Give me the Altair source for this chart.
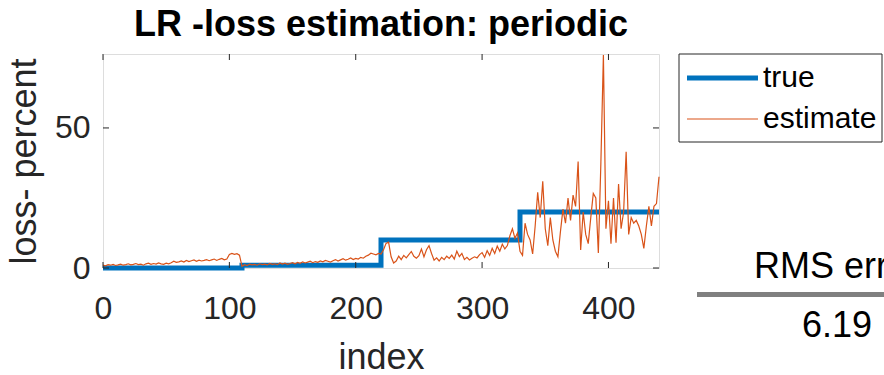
import altair as alt
import pandas as pd

# ---- data -------------------------------------------------------------
# true loss level (step function, value holds until the next break)
true_index = [0, 110, 220, 330, 440]
true_loss = [0, 1, 10, 20, 20]

# estimated loss, every second index from 0 to 440
est_index = list(range(0, 441, 2))
est_loss = [
    # 0 - 108
    1.0, 0.8, 1.2, 1.0, 1.3, 0.9, 1.1, 1.4, 1.0, 1.2, 1.5,
    1.1, 1.3, 1.6, 1.2, 1.4, 1.0, 1.5, 1.7, 1.3, 1.6,
    1.4, 1.8, 1.5, 1.3, 1.7, 1.5, 1.9, 2.4, 2.0, 2.2,
    2.5, 2.1, 2.7, 2.3, 2.6, 2.9, 2.4, 2.8, 2.5, 2.7,
    3.0, 2.6, 2.9, 3.2, 2.7, 3.1, 3.4, 2.9, 3.2,
    4.8, 5.2, 4.9, 5.1, 4.6,
    # 110 - 218
    0.6, 1.2, 0.9, 1.4, 1.1, 1.3, 1.0, 1.5, 1.2, 1.4,
    1.1, 1.6, 1.3, 1.5, 1.2, 1.8, 1.4, 1.7, 1.3, 1.6,
    1.9, 1.5, 2.0, 1.7, 2.2, 1.8, 2.1, 2.4, 1.9, 2.3,
    2.0, 2.5, 2.2, 2.7, 2.4, 2.1, 2.6, 3.0, 2.5, 2.9,
    3.3, 2.8, 3.1, 3.6, 3.0, 3.4, 3.2, 3.8, 3.5, 4.2,
    4.6, 5.3, 5.0, 4.7, 5.2,
    # 220 - 328
    5.0, 6.5, 8.8, 9.2, 4.0, 1.8, 2.5, 4.2, 3.0, 4.5,
    3.6, 4.8, 5.9, 4.2, 3.5, 4.4, 6.8, 4.0, 6.5, 8.0,
    5.2, 2.8, 3.6, 2.5, 3.8, 3.0, 4.2, 3.4, 4.6, 3.2,
    6.0, 4.1, 5.2, 3.0, 3.8, 2.9, 3.5, 4.0, 3.6, 4.8,
    5.5, 3.8, 6.2, 4.5, 7.0, 5.2, 7.8, 6.0, 8.5, 6.8,
    8.0, 11.5, 14.0, 10.6, 12.5,
    # 330 - 440
    6.0, 4.5, 16.0, 12.0, 10.0, 5.0, 15.0, 27.0, 18.0, 31.0,
    14.0, 8.0, 18.0, 10.0, 6.0, 4.0, 13.0, 21.0, 16.0, 25.0,
    17.0, 26.0, 22.0, 38.0, 6.4, 20.0, 12.0, 8.7, 18.0, 26.6,
    25.0, 5.4, 37.5, 76.0, 14.0, 24.0, 8.7, 25.0, 9.0, 30.0,
    14.0, 20.0, 41.5, 12.0, 18.0, 16.0, 17.0, 15.0, 12.0, 7.0,
    15.0, 22.0, 15.0, 22.0, 23.0, 32.6,
]

x_ticks = [0, 100, 200, 300, 400]
y_ticks = [0, 50]
series_names = ["true", "estimate"]
rms_error = "6.19"

# ---- styling ----------------------------------------------------------
BLUE = "#0072BD"
ORANGE = "#D95319"
AXIS = "#262626"
FONT = "Liberation Sans"
W, H = 556, 214
X_MAX, Y_MAX = 440, 76.4

true_df = pd.DataFrame({"index": true_index, "loss": true_loss})
est_df = pd.DataFrame({"index": est_index, "loss": est_loss})

x_scale = alt.Scale(domain=[0, X_MAX], nice=False, zero=False)
y_scale = alt.Scale(domain=[0, Y_MAX], nice=False, zero=False)

x_axis = alt.Axis(
    values=x_ticks, ticks=False, tickSize=0, grid=False, domain=False,
    labelFontSize=32, labelFont=FONT, labelColor=AXIS, labelPadding=25,
    labelFlush=False,
    title="index", titleFontSize=36, titleFont=FONT, titleColor=AXIS,
    titleFontWeight="normal", titleX=W / 2, titleY=100,
    titleBaseline="alphabetic",
)
y_axis = alt.Axis(
    values=y_ticks, ticks=False, tickSize=0, grid=False, domain=False,
    labelFontSize=32, labelFont=FONT, labelColor=AXIS, labelPadding=13,
    labelFlush=False,
    title="loss- percent", titleFontSize=36, titleFont=FONT, titleColor=AXIS,
    titleFontWeight="normal", titleX=-68, titleY=H / 2, titleAngle=270,
    titleBaseline="alphabetic",
)

true_line = alt.Chart(true_df).mark_line(
    color=BLUE, strokeWidth=5, interpolate="step-after"
).encode(
    x=alt.X("index:Q", scale=x_scale, axis=x_axis),
    y=alt.Y("loss:Q", scale=y_scale, axis=y_axis),
)

est_line = alt.Chart(est_df).mark_line(
    color=ORANGE, strokeWidth=1.2
).encode(
    x=alt.X("index:Q", scale=x_scale),
    y=alt.Y("loss:Q", scale=y_scale),
)

# inward tick marks on all four sides of the box
xt = pd.DataFrame({"t": x_ticks})
yt = pd.DataFrame({"t": y_ticks})
tick_style = dict(color=AXIS, strokeWidth=1)
ticks_bottom = alt.Chart(xt).mark_rule(**tick_style).encode(
    x=alt.X("t:Q", scale=x_scale), y=alt.value(H), y2=alt.value(H - 6))
ticks_top = alt.Chart(xt).mark_rule(**tick_style).encode(
    x=alt.X("t:Q", scale=x_scale), y=alt.value(0), y2=alt.value(6))
ticks_left = alt.Chart(yt).mark_rule(**tick_style).encode(
    y=alt.Y("t:Q", scale=y_scale), x=alt.value(0), x2=alt.value(6))
ticks_right = alt.Chart(yt).mark_rule(**tick_style).encode(
    y=alt.Y("t:Q", scale=y_scale), x=alt.value(W), x2=alt.value(W - 6))

# legend box to the right of the axes
one = pd.DataFrame({"k": [0]})
legend_box = alt.Chart(one).mark_rect(
    fill="white", stroke=AXIS, strokeWidth=1
).encode(x=alt.value(576), x2=alt.value(779), y=alt.value(0), y2=alt.value(88))
legend_true = alt.Chart(one).mark_rule(color=BLUE, strokeWidth=5).encode(
    x=alt.value(584), x2=alt.value(655), y=alt.value(24))
legend_est = alt.Chart(one).mark_rule(color=ORANGE, strokeWidth=1.2).encode(
    x=alt.value(584), x2=alt.value(655), y=alt.value(65))

legend_style = dict(font=FONT, fontSize=30, color="black", align="left",
                    baseline="middle")
legend_text_true = alt.Chart(pd.DataFrame({"name": [series_names[0]]})).mark_text(
    **legend_style).encode(text="name:N", x=alt.value(660), y=alt.value(24))
legend_text_est = alt.Chart(pd.DataFrame({"name": [series_names[1]]})).mark_text(
    **legend_style).encode(text="name:N", x=alt.value(660), y=alt.value(65))

# RMS error table below the legend
rms_head = alt.Chart(pd.DataFrame({"s": ["RMS error"]})).mark_text(
    font=FONT, fontSize=36, color="black", align="center", baseline="alphabetic"
).encode(text="s:N", x=alt.value(734), y=alt.value(224))
rms_rule = alt.Chart(one).mark_rule(color="#808080", strokeWidth=5).encode(
    x=alt.value(594), x2=alt.value(820), y=alt.value(240.5))
rms_val = alt.Chart(pd.DataFrame({"s": [rms_error]})).mark_text(
    font=FONT, fontSize=36, color="black", align="center", baseline="alphabetic"
).encode(text="s:N", x=alt.value(734), y=alt.value(283))

chart = alt.layer(
    true_line, est_line,
    ticks_bottom, ticks_top, ticks_left, ticks_right,
    legend_box, legend_true, legend_est, legend_text_true, legend_text_est,
    rms_head, rms_rule, rms_val,
).properties(
    width=W,
    height=H,
    title=alt.TitleParams(
        "LR -loss estimation: periodic", fontSize=36, font=FONT,
        fontWeight="bold", color="black", anchor="middle",
        baseline="alphabetic", offset=-19,
    ),
    autosize=alt.AutoSizeParams(type="none"),
    padding={"left": 103, "top": 54, "right": 225, "bottom": 107},
).configure_view(
    stroke=AXIS, strokeWidth=1
).configure(background="white")

chart.save("out.html", embed_options={"renderer": "svg", "actions": False})
